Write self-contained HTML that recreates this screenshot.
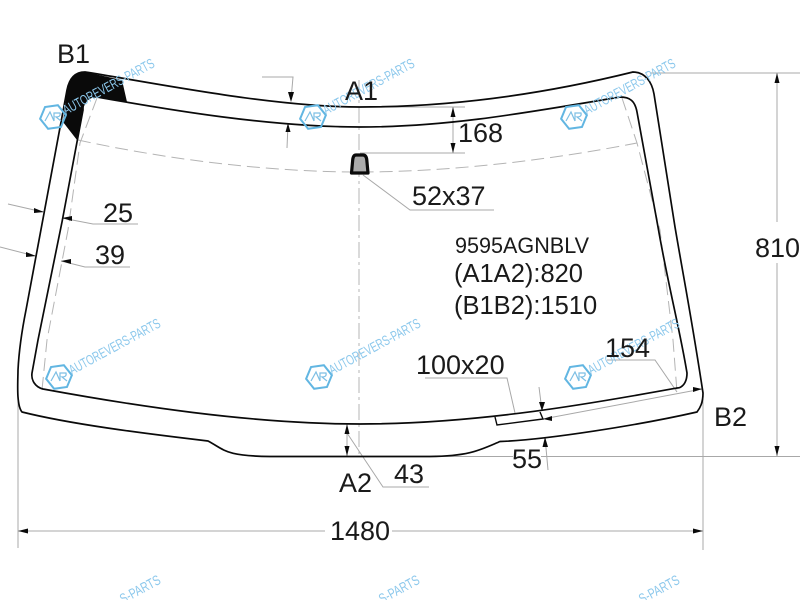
<!DOCTYPE html>
<html>
<head>
<meta charset="utf-8">
<style>
html,body{margin:0;padding:0;background:#fff;width:800px;height:600px;overflow:hidden}
.wrap{position:relative;width:800px;height:600px;overflow:hidden}
svg{display:block}
text{font-family:"Liberation Sans",Arial,sans-serif;fill:#1a1a1a}
.t{font-size:27px}
.w{font-size:14px;fill:#8cc8ec}
</style>
</head>
<body>
<div class="wrap">
<svg width="800" height="600" viewBox="0 0 800 600" xmlns="http://www.w3.org/2000/svg">
<defs>
<g id="wm">
<polygon points="-13,0 -6.5,-11 6.5,-11 13,0 6.5,11 -6.5,11" fill="none" stroke="#62b6e2" stroke-width="2" transform="rotate(-8)"/>
<path d="M-8,4 L-3,-5 L1,4 M1,4 L1,-4 L7,-4 Q8,0 3,0 L8,4" fill="none" stroke="#7dbfe4" stroke-width="1.2"/>
<text class="w" x="13" y="-2" transform="rotate(-28.5 13 -2)" textLength="102" lengthAdjust="spacingAndGlyphs">AUTOREVERS-PARTS</text>
</g>
</defs>

<!-- dim / gray lines -->
<g fill="none" stroke="#a8a8a8" stroke-width="1">
<path d="M650,73H800"/>
<path d="M777,73V222M777,263V456"/>
<path d="M347,456.5H513M541,456.5H800"/>
<path d="M703,393V550"/>
<path d="M18,392V548"/>
<path d="M18,531H325M392,531H703"/>
<path d="M360,107H465M360,153H465"/>
<path d="M453,107V153"/>
<path d="M363,175L410,210H494"/>
<path d="M262,77H293L291,100"/>
<path d="M288,124L287,148"/>
<path d="M8,204L43,212M0,247L35,256"/>
<path d="M62,218L93,224H138"/>
<path d="M61,261L85,267H130"/>
<path d="M347,424V456"/>
<path d="M347,433L383,487H429"/>
<path d="M425,378H507L515,413"/>
<path d="M539,387L542,411"/>
<path d="M543,419L702,389"/>
<path d="M607,360H655L677,392"/>
<path d="M545,437L548,470"/>
</g>

<!-- dashed -->
<g fill="none" stroke="#b4b4b4" stroke-width="1" stroke-dasharray="13 6">
<path d="M97,98L80,143L68,230L47,340L42,390"/>
<path d="M78,140C170,160 270,172 360,172C450,172 550,160 637,143"/>
<path d="M622,98L637,143L660,230L673,340L677,392"/>
</g>
<path d="M359,80V455" fill="none" stroke="#b4b4b4" stroke-width="1" stroke-dasharray="16 4 3 4"/>

<!-- black corner -->
<path d="M85,72C74,72 69,80 67,90L63,122L77,140L83,110C85,101 90,97 97,97L127,102L122,80Z" fill="#0a0a0a"/>

<!-- glass outlines -->
<g fill="none" stroke="#0a0a0a" stroke-width="1.7">
<path d="M85,72C150,82 270,107 360,107C450,107 540,95 633,72C645,72 652,82 654,94L675,227C684,280 692,320 703,393C703,403 700,408 697,412C640,425 545,440 500,441.5C480,450 470,456 430,456.5L270,456.5C225,456 225,450 208,441C140,433 70,424 22,412C16,405 18,380 18,370C19,350 22,330 26,310L67,90C69,80 74,72 85,72Z"/>
<path d="M83,102C88,98 92,96 97,97C170,110 270,127 360,127C450,127 530,112 620,97C630,97 635,101 637,112L658,227C668,285 680,330 687,373C687,383 682,388 677,388C600,402 480,424 360,424C250,424 130,405 43,389C35,387 31,380 32,373L38,340L62,222L83,110Z"/>
<path d="M495,417L497,425L543,419L540,412" stroke-width="1.4"/>
</g>

<!-- vent -->
<path d="M356,155H363C365.5,155 366.5,157 366.8,160L368,173H351.5L352.7,160C353,157 354,155 356,155Z" fill="#aaaaaa" stroke="#0a0a0a" stroke-width="3.2" stroke-linejoin="round"/>

<!-- arrowheads -->
<g fill="#0a0a0a">
<path d="M777,73L774.5,83H779.5Z"/>
<path d="M777,456L774.5,446H779.5Z"/>
<path d="M18,531L28,528.5V533.5Z"/>
<path d="M703,531L693,528.5V533.5Z"/>
<path d="M453,107L450.5,117H455.5Z"/>
<path d="M453,153L450.5,143H455.5Z"/>
<path d="M291,102L288,92H294Z"/>
<path d="M288,123L285.5,132H290.5Z"/>
<path d="M44,212L34,208V213Z"/>
<path d="M36,256L26,252V257Z"/>
<path d="M62,218L72,216V221Z"/>
<path d="M61,261L71,259V264Z"/>
<path d="M347,424L344.5,434H349.5Z"/>
<path d="M347,456L344.5,446H349.5Z"/>
<path d="M542,411L539,402H545Z"/>
<path d="M543,419L552,416V421Z"/>
<path d="M702,389L693,387V392Z"/>
<path d="M545,437L542.5,447H548Z"/>
</g>

<!-- watermarks -->
<use href="#wm" x="53" y="117"/>
<use href="#wm" x="313" y="117"/>
<use href="#wm" x="574" y="117"/>
<use href="#wm" x="59" y="377"/>
<use href="#wm" x="319" y="377"/>
<use href="#wm" x="578" y="377"/>
<text class="w" x="123" y="604" transform="rotate(-28.5 123 604)" textLength="44" lengthAdjust="spacingAndGlyphs">S-PARTS</text>
<text class="w" x="382" y="604" transform="rotate(-28.5 382 604)" textLength="44" lengthAdjust="spacingAndGlyphs">S-PARTS</text>
<text class="w" x="642" y="604" transform="rotate(-28.5 642 604)" textLength="44" lengthAdjust="spacingAndGlyphs">S-PARTS</text>

<!-- labels -->
<text class="t" x="57" y="63">B1</text>
<text class="t" x="345" y="100">A1</text>
<text class="t" x="714" y="426">B2</text>
<text class="t" x="339" y="492">A2</text>
<text class="t" x="458" y="142">168</text>
<text class="t" x="412" y="205">52x37</text>
<text class="t" x="103" y="222">25</text>
<text class="t" x="95" y="264">39</text>
<text class="t" x="755" y="257">810</text>
<text x="455" y="253" font-size="22" textLength="134" lengthAdjust="spacingAndGlyphs">9595AGNBLV</text>
<text x="454" y="282" font-size="25.5">(A1A2):820</text>
<text x="454" y="314" font-size="25.5">(B1B2):1510</text>
<text class="t" x="416" y="374">100x20</text>
<text class="t" x="605" y="357">154</text>
<text class="t" x="512" y="468">55</text>
<text class="t" x="394" y="483">43</text>
<text class="t" x="330" y="540">1480</text>
</svg>
</div>
</body>
</html>
